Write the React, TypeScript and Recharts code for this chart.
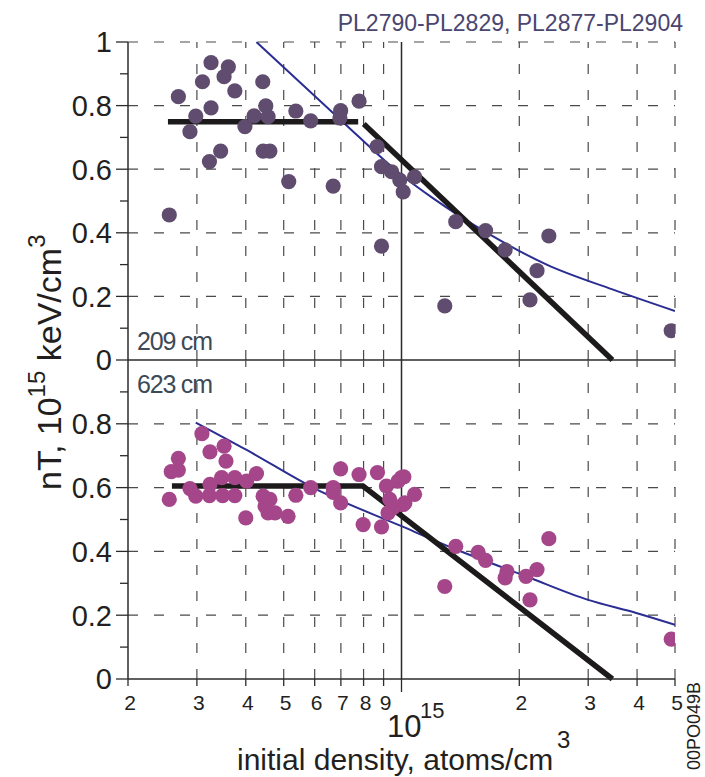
import React from 'react';
import { ComposedChart, XAxis, YAxis, Scatter, Line, ReferenceLine } from 'recharts';

const FONT = '"Liberation Sans", Arial, Helvetica, sans-serif';

const xTicks = [2e14, 3e14, 4e14, 5e14, 6e14, 7e14, 8e14, 9e14, 1e15, 2e15, 3e15, 4e15, 5e15];
const xTickLabels = ['2', '3', '4', '5', '6', '7', '8', '9', '', '2', '3', '4', '5'];
const xGrid = [3e14, 4e14, 5e14, 6e14, 7e14, 8e14, 9e14, 2e15, 3e15, 4e15, 5e15];
const decadeLine = 1e15;

const topYTicks = [0, 0.1, 0.2, 0.3, 0.4, 0.5, 0.6, 0.7, 0.8, 0.9, 1];
const topYLabels = ['0', '', '0.2', '', '0.4', '', '0.6', '', '0.8', '', '1'];
const bottomYTicks = [0, 0.1, 0.2, 0.3, 0.4, 0.5, 0.6, 0.7, 0.8, 0.9];
const bottomYLabels = ['0', '', '0.2', '', '0.4', '', '0.6', '', '0.8', ''];
const topYGrid = [0.2, 0.4, 0.6, 0.8, 1];
const bottomYGrid = [0.2, 0.4, 0.6, 0.8];

// 209 cm shots
const topShots = [
  { x: 2.55e14, y: 0.456 }, { x: 2.69e14, y: 0.828 }, { x: 3.1e14, y: 0.875 }, { x: 3.26e14, y: 0.935 },
  { x: 3.61e14, y: 0.922 }, { x: 3.52e14, y: 0.891 }, { x: 3.75e14, y: 0.846 }, { x: 2.98e14, y: 0.767 },
  { x: 2.88e14, y: 0.718 }, { x: 3.26e14, y: 0.793 }, { x: 3.45e14, y: 0.657 }, { x: 3.23e14, y: 0.624 },
  { x: 3.98e14, y: 0.734 }, { x: 4.2e14, y: 0.768 }, { x: 4.42e14, y: 0.875 }, { x: 4.5e14, y: 0.799 },
  { x: 4.56e14, y: 0.765 }, { x: 4.43e14, y: 0.657 }, { x: 4.61e14, y: 0.657 }, { x: 5.37e14, y: 0.783 },
  { x: 5.86e14, y: 0.752 }, { x: 6.99e14, y: 0.784 }, { x: 6.96e14, y: 0.761 }, { x: 7.79e14, y: 0.814 },
  { x: 5.15e14, y: 0.561 }, { x: 6.69e14, y: 0.547 }, { x: 8.66e14, y: 0.671 }, { x: 8.89e14, y: 0.608 },
  { x: 9.43e14, y: 0.592 }, { x: 9.9e14, y: 0.566 }, { x: 1.01e15, y: 0.529 }, { x: 1.08e15, y: 0.576 },
  { x: 8.89e14, y: 0.358 }, { x: 1.376e15, y: 0.435 }, { x: 1.64e15, y: 0.407 }, { x: 1.84e15, y: 0.346 },
  { x: 2.38e15, y: 0.39 }, { x: 2.22e15, y: 0.281 }, { x: 2.13e15, y: 0.189 }, { x: 1.29e15, y: 0.17 },
  { x: 4.89e15, y: 0.092 },
];

// 623 cm shots
const bottomShots = [
  { x: 3.09e14, y: 0.769 }, { x: 3.52e14, y: 0.73 }, { x: 3.24e14, y: 0.712 }, { x: 3.56e14, y: 0.683 },
  { x: 2.69e14, y: 0.692 }, { x: 2.69e14, y: 0.655 }, { x: 2.58e14, y: 0.65 }, { x: 2.55e14, y: 0.563 },
  { x: 2.88e14, y: 0.597 }, { x: 2.98e14, y: 0.573 }, { x: 3.24e14, y: 0.61 }, { x: 3.23e14, y: 0.575 },
  { x: 3.47e14, y: 0.631 }, { x: 3.49e14, y: 0.575 }, { x: 3.75e14, y: 0.631 }, { x: 3.75e14, y: 0.575 },
  { x: 4.02e14, y: 0.62 }, { x: 4.26e14, y: 0.644 }, { x: 4.0e14, y: 0.505 }, { x: 4.43e14, y: 0.573 },
  { x: 4.48e14, y: 0.542 }, { x: 4.56e14, y: 0.521 }, { x: 4.61e14, y: 0.563 }, { x: 4.75e14, y: 0.521 },
  { x: 5.13e14, y: 0.51 }, { x: 5.37e14, y: 0.576 }, { x: 5.86e14, y: 0.6 }, { x: 6.69e14, y: 0.6 },
  { x: 6.69e14, y: 0.585 }, { x: 6.99e14, y: 0.659 }, { x: 6.99e14, y: 0.552 }, { x: 7.79e14, y: 0.641 },
  { x: 7.98e14, y: 0.484 }, { x: 8.68e14, y: 0.647 }, { x: 8.89e14, y: 0.477 }, { x: 9.15e14, y: 0.605 },
  { x: 9.33e14, y: 0.563 }, { x: 9.52e14, y: 0.537 }, { x: 9.24e14, y: 0.521 }, { x: 9.8e14, y: 0.62 },
  { x: 1.014e15, y: 0.634 }, { x: 1.0e15, y: 0.631 }, { x: 1.02e15, y: 0.552 }, { x: 1.01e15, y: 0.547 },
  { x: 1.08e15, y: 0.579 }, { x: 1.376e15, y: 0.416 }, { x: 1.57e15, y: 0.397 }, { x: 1.64e15, y: 0.372 },
  { x: 1.86e15, y: 0.337 }, { x: 1.84e15, y: 0.317 }, { x: 2.08e15, y: 0.322 }, { x: 2.22e15, y: 0.343 },
  { x: 2.13e15, y: 0.248 }, { x: 2.38e15, y: 0.44 }, { x: 1.29e15, y: 0.29 }, { x: 4.89e15, y: 0.125 },
];

const topFit = [
  { x: 4.26e14, y: 1.0 }, { x: 6.99e14, y: 0.755 }, { x: 1.0e15, y: 0.582 }, { x: 1.2e15, y: 0.51 },
  { x: 1.68e15, y: 0.395 }, { x: 2.35e15, y: 0.3 }, { x: 3.46e15, y: 0.222 }, { x: 5.0e15, y: 0.154 },
];
const bottomFit = [
  { x: 2.98e14, y: 0.804 }, { x: 4.02e14, y: 0.718 }, { x: 5.94e14, y: 0.6 }, { x: 1.0e15, y: 0.479 },
  { x: 1.38e15, y: 0.406 }, { x: 2.08e15, y: 0.322 }, { x: 3.0e15, y: 0.248 }, { x: 3.98e15, y: 0.207 },
  { x: 5.0e15, y: 0.17 },
];

const topTrendFlat = [{ x: 2.53e14, y: 0.749 }, { x: 7.75e14, y: 0.749 }];
const topTrendSlope = [{ x: 8.01e14, y: 0.742 }, { x: 3.46e15, y: 0 }];
const bottomTrend = [{ x: 2.59e14, y: 0.605 }, { x: 7.97e14, y: 0.605 }, { x: 3.46e15, y: 0 }];

const TOP_DOT = '#5f4c6e';
const BOTTOM_DOT = '#a5468a';
const FIT = '#2a2d92';
const TREND = '#1c1a1a';
const GRID = '#4a4a4a';
const AXIS = '#2b2b2b';
const TEXT = '#231f20';

const makeYTick = (ticks: number[], labels: string[]) => (props: any) => {
  const { x, y, payload } = props;
  const i = ticks.indexOf(payload.value);
  const lab = i >= 0 ? labels[i] : '';
  const major = lab !== '';
  return (
    <g>
      <line x1={x - (major ? 12 : 8)} x2={x} y1={y} y2={y} stroke={AXIS} strokeWidth={1.3} />
      {major && (
        <text x={x - 16} y={y} dy="0.36em" textAnchor="end" fontSize={29} fill={TEXT} fontFamily={FONT}>
          {lab}
        </text>
      )}
    </g>
  );
};

const XTick = (props: any) => {
  const { x, y, payload } = props;
  const i = xTicks.indexOf(payload.value);
  const lab = i >= 0 ? xTickLabels[i] : '';
  const len = lab === '' ? 13 : 7;
  return (
    <g>
      <line x1={x} x2={x} y1={y} y2={y + len} stroke={AXIS} strokeWidth={1.3} />
      {lab !== '' && (
        <text x={x + 2} y={y + 31} textAnchor="middle" fontSize={21} fill={TEXT} fontFamily={FONT}>
          {lab}
        </text>
      )}
    </g>
  );
};

const dot = (color: string) => (p: any) => <circle cx={p.cx} cy={p.cy} r={7.6} fill={color} />;

const gridLines = (yGrid: number[]) => [
  ...xGrid.map((v) => (
    <ReferenceLine key={'gx' + v} x={v} stroke={GRID} strokeWidth={1.2} strokeDasharray="10 16" />
  )),
  ...yGrid.map((v) => (
    <ReferenceLine key={'gy' + v} y={v} stroke={GRID} strokeWidth={1.2} strokeDasharray="10 16" />
  )),
];

export default function App() {
  return (
    <div style={{ position: 'absolute', left: 0, top: 0, width: 705, height: 777, background: '#fff', fontFamily: FONT }}>
      <div style={{ position: 'absolute', left: 0, top: 0 }}>
        <ComposedChart width={705} height={400} margin={{ top: 42, right: 30, bottom: 40, left: 0 }}>
          <XAxis dataKey="x" type="number" scale="log" domain={[2e14, 5e15]} allowDataOverflow hide ticks={xTicks} />
          <YAxis
            type="number"
            domain={[0, 1]}
            ticks={topYTicks}
            interval={0}
            width={128}
            tickSize={0}
            tickMargin={0}
            tickLine={false}
            axisLine={{ stroke: AXIS, strokeWidth: 1.5 }}
            tick={makeYTick(topYTicks, topYLabels)}
          />
          {gridLines(topYGrid)}
          <ReferenceLine x={decadeLine} stroke={AXIS} strokeWidth={1.5} />
          <ReferenceLine y={0} stroke={AXIS} strokeWidth={1.5} />
          <Scatter data={topShots} dataKey="y" shape={dot(TOP_DOT)} isAnimationActive={false} />
          <Line data={topFit} dataKey="y" type="monotone" stroke={FIT} strokeWidth={2} dot={false} isAnimationActive={false} />
          <Line data={topTrendFlat} dataKey="y" type="linear" stroke={TREND} strokeWidth={5.5} dot={false} isAnimationActive={false} />
          <Line data={topTrendSlope} dataKey="y" type="linear" stroke={TREND} strokeWidth={5.5} dot={false} isAnimationActive={false} />
        </ComposedChart>
      </div>
      <div style={{ position: 'absolute', left: 0, top: 0 }}>
        <ComposedChart width={705} height={777} margin={{ top: 360, right: 30, bottom: 0, left: 0 }}>
          <XAxis
            dataKey="x"
            type="number"
            scale="log"
            domain={[2e14, 5e15]}
            allowDataOverflow
            ticks={xTicks}
            interval={0}
            height={98}
            tickSize={0}
            tickMargin={0}
            tickLine={false}
            axisLine={{ stroke: AXIS, strokeWidth: 1.5 }}
            tick={<XTick />}
          />
          <YAxis
            type="number"
            domain={[0, 1]}
            ticks={bottomYTicks}
            interval={0}
            width={128}
            tickSize={0}
            tickMargin={0}
            tickLine={false}
            axisLine={{ stroke: AXIS, strokeWidth: 1.5 }}
            tick={makeYTick(bottomYTicks, bottomYLabels)}
          />
          {gridLines(bottomYGrid)}
          <ReferenceLine x={decadeLine} stroke={AXIS} strokeWidth={1.5} />
          <Scatter data={bottomShots} dataKey="y" shape={dot(BOTTOM_DOT)} isAnimationActive={false} />
          <Line data={bottomFit} dataKey="y" type="monotone" stroke={FIT} strokeWidth={2} dot={false} isAnimationActive={false} />
          <Line data={bottomTrend} dataKey="y" type="linear" stroke={TREND} strokeWidth={5.5} dot={false} isAnimationActive={false} />
        </ComposedChart>
      </div>
      <svg width={705} height={777} style={{ position: 'absolute', left: 0, top: 0, pointerEvents: 'none' }} fontFamily={FONT}>
        <text x={683} y={31} textAnchor="end" fontSize={23} fill="#4a4670">PL2790-PL2829, PL2877-PL2904</text>
        <text x={137} y={350} fontSize={25} fill="#3d4a55" letterSpacing={-1.2}>209 cm</text>
        <text x={137} y={393} fontSize={25} fill="#3d4a55" letterSpacing={-1.2}>623 cm</text>
        <text x={387} y={737} fontSize={31} fill={TEXT}>10</text>
        <text x={420} y={718} fontSize={22} fill={TEXT}>15</text>
        <text x={237} y={770} fontSize={30} fill={TEXT}>initial density, atoms/cm</text>
        <text x={557} y={748} fontSize={24} fill={TEXT}>3</text>
        <text transform="translate(61,490) rotate(-90)" fontSize={34} fill={TEXT}>
          nT, 10
          <tspan dy={-16} fontSize={24}>15</tspan>
          <tspan dy={16} fontSize={34}> keV/cm</tspan>
          <tspan dy={-16} fontSize={24}>3</tspan>
        </text>
        <text transform="translate(700,770) rotate(-90)" fontSize={18} fill={TEXT}>00PO049B</text>
      </svg>
    </div>
  );
}
